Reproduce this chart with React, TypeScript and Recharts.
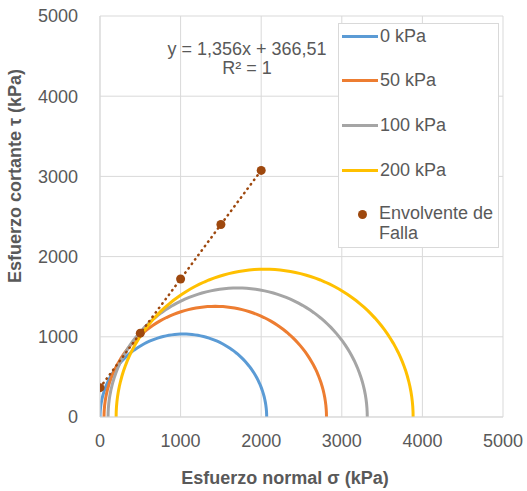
import React from "react";
import {
  ComposedChart,
  Line,
  Scatter,
  XAxis,
  YAxis,
  CartesianGrid,
} from "recharts";

// ---------------------------------------------------------------------------
// Data
// ---------------------------------------------------------------------------

const CONFINING = ["0 kPa", "50 kPa", "100 kPa", "200 kPa"];
const SIGMA3 = [0, 50, 100, 200];
const SIGMA1 = [2068, 2810, 3316, 3885];
const CIRCLE_COLORS = ["#5B9BD5", "#ED7D31", "#A5A5A5", "#FFC000"];

const ENVELOPE_X = [0, 500, 1000, 1500, 2000];
const ENVELOPE_Y = [366, 1045, 1720, 2400, 3075];
const ENVELOPE_COLOR = "#9E480E";

const TICKS = [0, 1000, 2000, 3000, 4000, 5000];

const TEXT = "#595959";
const GRID = "#D9D9D9";
const FONT = "'Liberation Sans', Arial, sans-serif";

// Mohr circle (upper half) from sigma3 / sigma1
function mohrArc(s3: number, s1: number) {
  const c = (s1 + s3) / 2;
  const r = (s1 - s3) / 2;
  const pts: { x: number; y: number }[] = [];
  for (let i = 0; i <= 180; i += 2) {
    const a = (Math.PI * i) / 180;
    pts.push({ x: c - r * Math.cos(a), y: r * Math.sin(a) });
  }
  return pts;
}

const circles = CONFINING.map((name, i) => ({
  name,
  color: CIRCLE_COLORS[i],
  data: mohrArc(SIGMA3[i], SIGMA1[i]),
}));

const envelope = ENVELOPE_X.map((x, i) => ({ x, y: ENVELOPE_Y[i] }));

function LegendBox() {
  return (
    <div
      style={{
        position: "absolute",
        left: 338,
        top: 23,
        width: 159,
        height: 223,
        background: "#fff",
        border: `1px solid ${GRID}`,
        fontFamily: FONT,
        fontSize: 18,
        color: TEXT,
      }}
    >
      {circles.map((c, i) => (
        <div
          key={c.name}
          style={{
            position: "absolute",
            left: 3,
            top: 1 + i * 44.7,
            display: "flex",
            alignItems: "center",
            height: 22,
            whiteSpace: "nowrap",
          }}
        >
          <span
            style={{
              display: "inline-block",
              width: 36,
              height: 3,
              background: c.color,
              marginRight: 2,
            }}
          />
          {c.name}
        </div>
      ))}
      <span
        style={{
          position: "absolute",
          left: 19,
          top: 186,
          width: 9,
          height: 9,
          borderRadius: 5,
          background: ENVELOPE_COLOR,
        }}
      />
      <div
        style={{
          position: "absolute",
          left: 40,
          top: 179,
          lineHeight: "20px",
          whiteSpace: "nowrap",
        }}
      >
        Envolvente de
        <br />
        Falla
      </div>
    </div>
  );
}

export default function App() {
  return (
    <div style={{ position: "absolute", left: 0, top: 0, width: 527, height: 491, background: "#fff" }}>
      <ComposedChart
        width={527}
        height={491}
        margin={{ top: 16, right: 24, bottom: 44, left: 40 }}
      >
        <CartesianGrid stroke={GRID} strokeWidth={1} />
        <XAxis
          type="number"
          dataKey="x"
          domain={[0, 5000]}
          ticks={TICKS}
          allowDataOverflow
          axisLine={{ stroke: GRID }}
          tickLine={false}
          height={30}
          tick={{ fill: TEXT, fontSize: 18, fontFamily: FONT }}
          tickMargin={11}
        />
        <YAxis
          type="number"
          dataKey="y"
          domain={[0, 5000]}
          ticks={TICKS}
          allowDataOverflow
          axisLine={{ stroke: GRID }}
          tickLine={false}
          width={60}
          tick={{ fill: TEXT, fontSize: 18, fontFamily: FONT }}
          tickMargin={16}
        />
        {circles.map((c) => (
          <Line
            key={c.name}
            data={c.data}
            dataKey="y"
            type="linear"
            stroke={c.color}
            strokeWidth={3}
            dot={false}
            activeDot={false}
            isAnimationActive={false}
          />
        ))}
        <Line
          data={envelope}
          dataKey="y"
          type="linear"
          stroke={ENVELOPE_COLOR}
          strokeWidth={2.5}
          strokeDasharray="0.5 5"
          strokeLinecap="round"
          dot={false}
          activeDot={false}
          isAnimationActive={false}
        />
        <Scatter
          data={envelope}
          dataKey="y"
          fill={ENVELOPE_COLOR}
          shape={(p: any) => <circle cx={p.cx} cy={p.cy} r={4.5} fill={ENVELOPE_COLOR} />}
          isAnimationActive={false}
        />
      </ComposedChart>
      <div
        style={{
          position: "absolute",
          left: 147,
          top: 40,
          width: 200,
          textAlign: "center",
          fontFamily: FONT,
          fontSize: 18,
          lineHeight: "19px",
          color: TEXT,
        }}
      >
        y = 1,356x + 366,51
        <br />
        R² = 1
      </div>
      <div
        style={{
          position: "absolute",
          left: 285,
          top: 478,
          transform: "translate(-50%, -50%)",
          whiteSpace: "nowrap",
          fontFamily: FONT,
          fontSize: 18,
          fontWeight: "bold",
          color: TEXT,
        }}
      >
        Esfuerzo normal σ (kPa)
      </div>
      <div
        style={{
          position: "absolute",
          left: 15,
          top: 176,
          transform: "translate(-50%, -50%) rotate(-90deg)",
          whiteSpace: "nowrap",
          fontFamily: FONT,
          fontSize: 18,
          fontWeight: "bold",
          color: TEXT,
        }}
      >
        Esfuerzo cortante τ (kPa)
      </div>
      <LegendBox />
    </div>
  );
}
